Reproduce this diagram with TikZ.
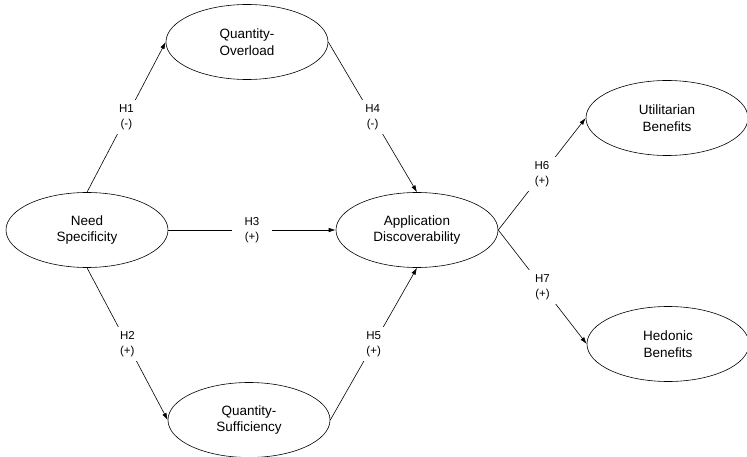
\documentclass[tikz,border=0pt]{standalone}
\usepackage{fontspec}
\setmainfont{Liberation Sans}
\usetikzlibrary{shapes.geometric,arrows.meta}
\begin{document}
\begin{tikzpicture}[x=1pt,y=-1pt,
  construct/.style={ellipse,draw,line width=0.6pt,minimum width=162pt,minimum height=75pt,
    inner sep=0pt,align=center,font=\fontsize{13.5}{16.5}\selectfont},
  relation/.style={line width=0.6pt,-{Latex[length=7pt,width=4.5pt]}},
  hyp/.style={fill=white,inner xsep=13pt,inner ysep=4pt,align=center,
    font=\fontsize{11.5}{15}\selectfont}]
\useasboundingbox (0,0) rectangle (747,457);

% constructs
\node[construct] (ns)  at (87,230)  {Need\\Specificity};
\node[construct] (qo)  at (247,42)  {Quantity-\\Overload};
\node[construct] (qs)  at (249,420) {Quantity-\\Sufficiency};
\node[construct] (app) at (417,230) {Application\\Discoverability};
\node[construct] (ut)  at (667,118) {Utilitarian\\Benefits};
\node[construct] (he)  at (668,344) {Hedonic\\Benefits};

% hypothesised paths
\draw[relation] (ns.north) -- node[hyp] {H1\\(-)} (qo.west);
\draw[relation] (ns.south) -- node[hyp] {H2\\(+)} (qs.west);
\draw[relation] (ns.east)  -- node[hyp] {H3\\(+)} (app.west);
\draw[relation] (qo.east)  -- node[hyp] {H4\\(-)} (app.north);
\draw[relation] (qs.east)  -- node[hyp] {H5\\(+)} (app.south);
\draw[relation] (app.east) -- node[hyp] {H6\\(+)} (ut.west);
\draw[relation] (app.east) -- node[hyp] {H7\\(+)} (he.west);
\end{tikzpicture}
\end{document}
